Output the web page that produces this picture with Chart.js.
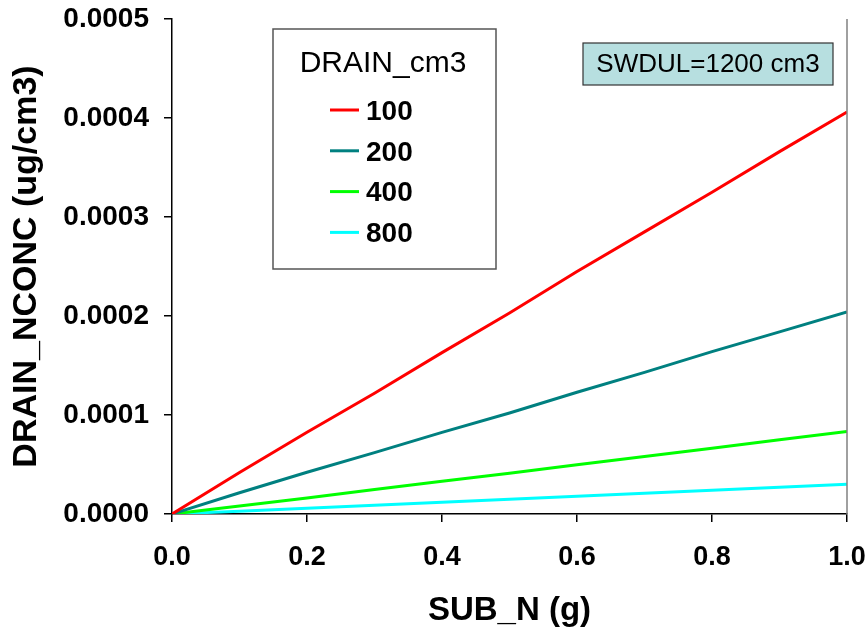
<!DOCTYPE html>
<html>
<head>
<meta charset="utf-8">
<script src="https://cdn.jsdelivr.net/npm/chart.js@4/dist/chart.umd.min.js"></script>
<style>
  body { margin: 0; background: #fff; }
  #wrap { width: 868px; height: 636px; }
</style>
</head>
<body>
<div id="wrap"><canvas id="nconc-chart" width="868" height="636"></canvas></div>
<script>
// SUB_N (g) sample points
const subN = [0, 0.1, 0.2, 0.3, 0.4, 0.5, 0.6, 0.7, 0.8, 0.9, 1.0];

// drain concentration (ug/cm3) for each drainage volume
const drain100 = [0, 0.0000420, 0.0000826, 0.000122, 0.000163, 0.000203, 0.000245, 0.000285, 0.000325, 0.000366, 0.000406];
const drain200 = [0, 0.0000215, 0.0000422, 0.0000620, 0.0000825, 0.000102, 0.000123, 0.000143, 0.000164, 0.000184, 0.000204];
const drain400 = [0, 0.0000080, 0.0000162, 0.0000248, 0.0000330, 0.0000412, 0.0000498, 0.0000580, 0.0000665, 0.0000750, 0.0000833];
const drain800 = [0, 0.0000029, 0.0000059, 0.0000089, 0.0000119, 0.0000149, 0.0000179, 0.0000209, 0.0000239, 0.0000269, 0.0000300];

const seriesLabels = ['100', '200', '400', '800'];
const seriesColors = ['#ff0000', '#008080', '#00ff00', '#00ffff'];

const legendTitle = 'DRAIN_cm3';
const noteText = 'SWDUL=1200 cm3';

const FONT = '"Liberation Sans", Arial, sans-serif';

function toPoints(values) {
    return subN.map((x, i) => ({ x: x, y: values[i] }));
}

const datasets = [drain100, drain200, drain400, drain800].map((vals, i) => ({
    label: seriesLabels[i],
    data: toPoints(vals),
    borderColor: seriesColors[i],
    backgroundColor: seriesColors[i],
    borderWidth: 3,
    pointRadius: 0,
    tension: 0,
    fill: false
}));

// legend box, note box and the right edge of the plot frame
const decorations = {
    id: 'decorations',
    afterDraw(chart) {
        const ctx = chart.ctx;
        const area = chart.chartArea;
        ctx.save();

        // right frame line
        ctx.strokeStyle = '#808080';
        ctx.lineWidth = 1.5;
        ctx.beginPath();
        ctx.moveTo(area.right, area.top);
        ctx.lineTo(area.right, area.bottom);
        ctx.stroke();

        // legend
        ctx.fillStyle = '#fff';
        ctx.fillRect(273, 29, 223, 240);
        ctx.strokeStyle = '#555';
        ctx.lineWidth = 1.5;
        ctx.strokeRect(273, 29, 223, 240);

        ctx.fillStyle = '#000';
        ctx.textAlign = 'center';
        ctx.textBaseline = 'middle';
        ctx.font = '30px ' + FONT;
        ctx.fillText(legendTitle, 383, 64);

        ctx.font = 'bold 28px ' + FONT;
        ctx.textAlign = 'left';
        chart.data.datasets.forEach((ds, i) => {
            const y = 110 + i * 40.8;
            ctx.strokeStyle = ds.borderColor;
            ctx.lineWidth = 3;
            ctx.beginPath();
            ctx.moveTo(330, y);
            ctx.lineTo(359, y);
            ctx.stroke();
            ctx.fillStyle = '#000';
            ctx.fillText(ds.label, 366, y + 2);
        });

        // SWDUL note
        ctx.fillStyle = '#b7dfe0';
        ctx.fillRect(583, 43, 250, 42);
        ctx.strokeStyle = '#333';
        ctx.lineWidth = 1.2;
        ctx.strokeRect(583, 43, 250, 42);
        ctx.fillStyle = '#000';
        ctx.textAlign = 'center';
        ctx.font = '26px ' + FONT;
        ctx.fillText(noteText, 708, 65);

        ctx.restore();
    }
};

new Chart(document.getElementById('nconc-chart'), {
    type: 'line',
    data: { datasets: datasets },
    options: {
        responsive: false,
        animation: false,
        layout: { padding: { top: 19, right: 21, left: 0, bottom: 0 } },
        plugins: {
            legend: { display: false },
            tooltip: { enabled: false }
        },
        scales: {
            x: {
                type: 'linear',
                min: 0,
                max: 1,
                afterFit: (scale) => {
                    scale.height = 122;
                    scale.paddingLeft = 0;
                    scale.paddingRight = 0;
                },
                border: { display: true, color: '#000', width: 1.5 },
                grid: { drawOnChartArea: false, drawTicks: true, tickLength: 8, color: '#000', lineWidth: 1.5 },
                ticks: {
                    stepSize: 0.2,
                    padding: 19,
                    color: '#000',
                    font: { family: FONT, size: 27, weight: 'bold' },
                    callback: (v) => Number(v).toFixed(1)
                },
                title: {
                    display: true,
                    text: 'SUB_N (g)',
                    color: '#000',
                    font: { family: FONT, size: 33, weight: 'bold' },
                    padding: { top: 0, bottom: 5 }
                }
            },
            y: {
                min: 0,
                max: 0.0005,
                afterFit: (scale) => {
                    scale.width = 172;
                    scale.paddingTop = 0;
                    scale.paddingBottom = 0;
                },
                border: { display: true, color: '#000', width: 1.5 },
                grid: { drawOnChartArea: false, drawTicks: true, tickLength: 8, color: '#000', lineWidth: 1.5 },
                ticks: {
                    stepSize: 0.0001,
                    padding: 15,
                    color: '#000',
                    font: { family: FONT, size: 28, weight: 'bold' },
                    callback: (v) => Number(v).toFixed(4)
                },
                title: {
                    display: true,
                    text: 'DRAIN_NCONC (ug/cm3)',
                    color: '#000',
                    font: { family: FONT, size: 34, weight: 'bold' },
                    padding: { top: 6, bottom: 0 }
                }
            }
        }
    },
    plugins: [decorations]
});
</script>
</body>
</html>
